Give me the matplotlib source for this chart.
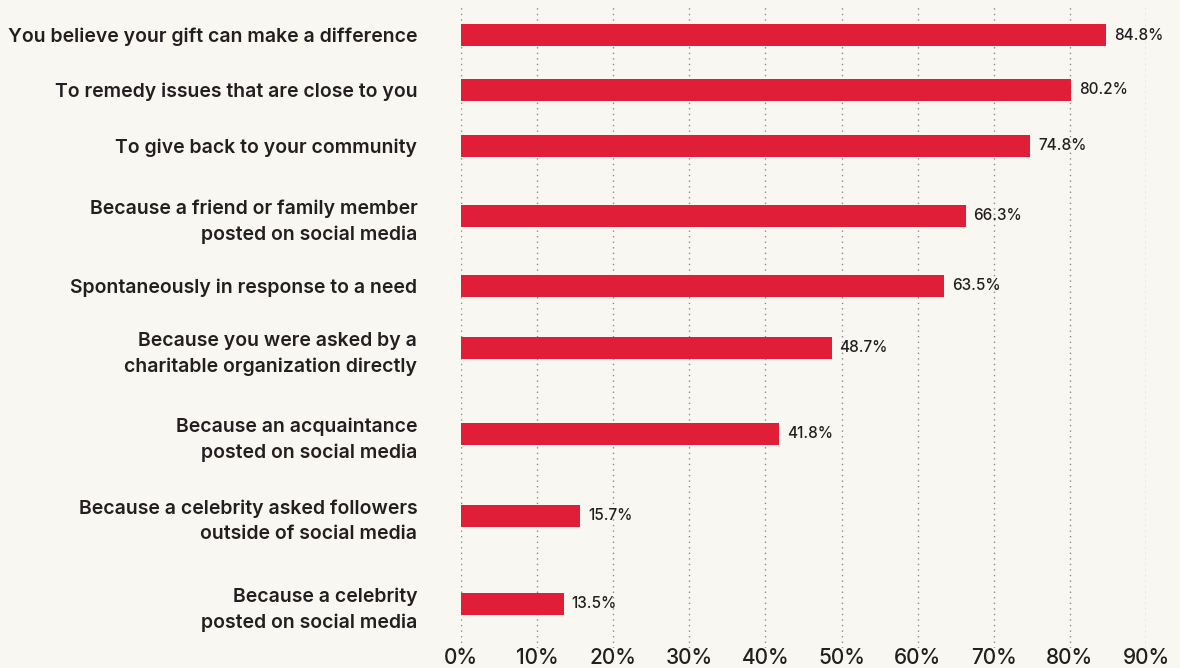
import matplotlib.pyplot as plt

# Survey answers, top to bottom
categories = [
    'You believe your gift can make a difference',
    'To remedy issues that are close to you',
    'To give back to your community',
    'Because a friend or family member\nposted on social media',
    'Spontaneously in response to a need',
    'Because you were asked by a\ncharitable organization directly',
    'Because an acquaintance\nposted on social media',
    'Because a celebrity asked followers\noutside of social media',
    'Because a celebrity\nposted on social media',
]
values = [84.8, 80.2, 74.8, 66.3, 63.5, 48.7, 41.8, 15.7, 13.5]
ticks = [0, 10, 20, 30, 40, 50, 60, 70, 80, 90]

# Row centres in pixel units (rows with two-line labels get more room)
row_pos = [35, 90, 146, 216, 286, 348, 434, 516, 604]

bg = '#f9f7f2'
bar_color = '#e01e37'
text_color = '#231f20'

plt.rcParams['font.family'] = ['Inter', 'DejaVu Sans']

fig = plt.figure(figsize=(11.8, 6.68), dpi=100, facecolor=bg)
ax = fig.add_axes([461 / 1180, 1 - 648 / 668, (1146 - 461) / 1180, (648 - 5) / 668])
ax.set_facecolor(bg)

ax.barh(row_pos, values, height=22, color=bar_color, zorder=3)

for y, v in zip(row_pos, values):
    ax.text(v + 1.0, y, f'{v}%', va='center', ha='left', fontsize=11,
            fontweight='medium', color=text_color)

ax.set_xlim(0, 90)
ax.set_ylim(648, 5)
ax.set_xticks(ticks)
ax.set_xticklabels([f'{t}%' for t in ticks], fontsize=15, fontweight='medium', color=text_color)
ax.set_yticks(row_pos)
ax.set_yticklabels(categories, fontsize=14, fontweight='semibold', color=text_color,
                   linespacing=1.5)
ax.tick_params(axis='both', length=0)
ax.tick_params(axis='y', pad=31.5)
ax.tick_params(axis='x', pad=0)

for t in ticks:
    ax.axvline(t, color='#8a8a8a', linestyle=(0, (1, 3)), linewidth=1, zorder=1)

for s in ax.spines.values():
    s.set_visible(False)

fig.savefig('out.png', dpi=100, facecolor=bg)
